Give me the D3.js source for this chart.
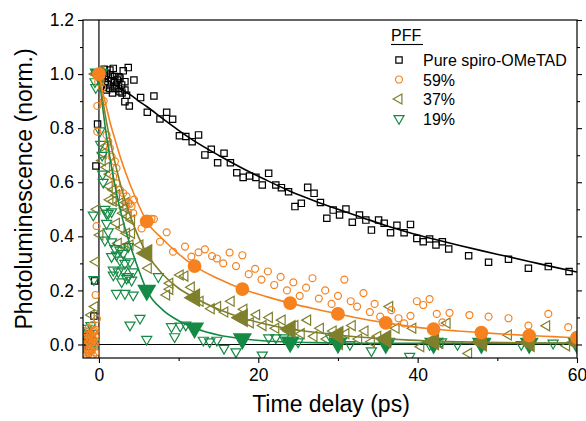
<!DOCTYPE html>
<html><head><meta charset="utf-8">
<script src="https://cdn.jsdelivr.net/npm/d3@7"></script>
<style>body{margin:0;background:#fff}svg{display:block}text{font-family:"Liberation Sans",Arial,sans-serif}</style>
</head><body><svg id="c" width="586" height="421"></svg>
<script>
// ---- data (time delay ps, normalized PL) ----
const seriesNames = ["Pure spiro-OMeTAD", "59%", "37%", "19%"];
const xTicks = [0, 20, 40, 60];
const yTicks = [0.0, 0.2, 0.4, 0.6, 0.8, 1.0, 1.2];

const pureData = [[-1.9,0.01],[-1.6,0.03],[-1.35,0.0],[-1.1,0.04],[-0.9,0.02],[-0.63,0.105],[-0.54,0.235],[-0.38,0.66],[-0.17,0.815],
[0.4,0.99],[0.5,0.95],[0.67,1.018],[0.75,0.972],[0.96,1.003],[0.96,0.941],[1.1,0.96],[1.17,0.985],[1.38,1.015],[1.38,0.947],[1.46,0.997],[1.59,0.975],[1.7,0.93],[1.8,1.021],[1.9,0.97],[2.0,0.991],[2.0,0.947],[2.2,0.96],[2.3,0.978],[2.43,0.947],[2.5,0.99],[2.64,0.985],[2.64,0.935],[2.85,0.96],[2.9,0.93],[3.05,1.012],[3.26,0.972],[3.26,0.941],[3.26,0.898],[3.47,0.922],[3.68,1.024],[3.81,0.882],[4.39,0.978],[5.23,0.913],[6.07,0.859],[6.9,0.919],[7.66,0.834],[8.5,0.859],[9.25,0.833],[10.1,0.772],[10.9,0.769],[11.7,0.75],[12.5,0.775],[13.3,0.701],[14.1,0.722],[14.9,0.672],[15.7,0.707],[16.5,0.672],[17.3,0.635],[18.1,0.618],[18.9,0.623],[19.7,0.618],[20.5,0.59],[21.3,0.633],[22.2,0.59],[22.9,0.58],[23.8,0.565],[24.6,0.51],[25.4,0.522],[26.2,0.581],[27.0,0.559],[27.8,0.525],[28.6,0.467],[29.4,0.497],[30.2,0.479],[31.0,0.501],[31.8,0.452],[32.7,0.479],[33.5,0.46],[34.2,0.423],[35.1,0.46],[35.8,0.448],[36.6,0.413],[37.4,0.441],[38.3,0.413],[39.1,0.444],[39.9,0.392],[40.7,0.38],[41.5,0.39],[42.3,0.368],[43.1,0.38],[43.9,0.353],[46.4,0.328],[48.9,0.304],[51.4,0.315],[53.9,0.282],[56.4,0.288],[59.0,0.27]];

const p59Data = [[-1.95,-0.03],[-1.9,0.02],[-1.85,-0.01],[-1.75,0.05],[-1.7,-0.04],[-1.6,0.0],[-1.55,0.035],[-1.5,-0.02],[-1.45,0.015],[-1.3,0.06],[-1.3,-0.035],[-1.25,0.025],[-1.2,0.01],[-1.15,-0.02],[-1.1,0.04],[-1.05,-0.045],[-1.0,0.0],[-0.95,0.02],[-0.9,0.03],[-0.9,-0.025],[-0.84,0.072],[-0.8,0.01],[-0.75,-0.04],[-0.7,0.02],[-0.65,0.045],[-0.6,0.05],[-0.6,-0.01],[-0.55,0.0],[-0.5,0.03],[-0.45,-0.03],[-0.42,0.054],[-0.42,0.183],[-0.35,0.01],[-0.3,0.438],[-0.25,0.095],[-0.21,0.787],[-0.2,0.882],[-0.1,0.97],
[0.2,0.99],[0.4,0.95],[0.6,0.9],[0.96,0.775],[1.17,0.75],[1.38,0.726],[1.59,0.695],[1.8,0.621],[2.0,0.677],[2.2,0.652],[2.2,0.596],[2.64,0.572],[3.05,0.56],[3.47,0.548],[3.68,0.523],[3.9,0.52],[4.1,0.511],[4.3,0.486],[4.4,0.536],[5.35,0.429],[6.6,0.465],[6.9,0.464],[7.66,0.38],[8.5,0.415],[9.3,0.343],[10.8,0.362],[11.6,0.325],[12.5,0.341],[13.3,0.352],[14.2,0.327],[14.8,0.318],
[15.6,0.30],[16.4,0.34],[17.2,0.29],[18.0,0.33],[18.8,0.26],[19.6,0.28],[20.4,0.24],[21.2,0.27],[22.0,0.22],[22.8,0.25],[23.6,0.2],[24.4,0.23],[25.2,0.18],[26.0,0.21],[26.8,0.245],[27.6,0.17],[28.4,0.2],[29.2,0.15],[30.0,0.18],[30.8,0.24],[31.6,0.16],[32.4,0.14],[33.2,0.19],[34.0,0.12],[34.6,0.15],
[35.3,0.103],[36.7,0.127],[37.6,0.097],[38.3,0.078],[39.1,0.106],[39.9,0.16],[40.7,0.146],[41.5,0.168],[42.4,0.113],[43.1,0.082],[44.0,0.117],[46.5,0.109],[48.9,0.103],[51.4,0.097],[53.9,0.07],[56.4,0.113],[58.9,0.064]];

const p37Data = [[-1.9,0.0],[-1.6,0.02],[-1.3,0.05],[-1.0,0.03],[-0.96,0.109],[-0.5,0.14],[-0.38,0.306],[-0.25,0.5],
[0.13,0.405],[0.42,0.68],[0.54,0.707],[0.88,0.734],[0.96,0.655],[1.3,0.585],[1.38,0.63],[1.38,0.535],[1.8,0.572],[1.8,0.53],[2.2,0.553],[2.2,0.448],[2.43,0.374],[2.64,0.523],[2.8,0.43],[3.05,0.485],[3.26,0.505],[3.26,0.362],[3.4,0.525],[3.47,0.411],[3.68,0.473],[3.9,0.368],[4.1,0.46],[4.1,0.411],[5.15,0.368],[6.2,0.282],[8.5,0.183],[8.9,0.226],[8.9,0.204],[10.2,0.257],[10.8,0.253],[11.6,0.212],[12.7,0.16],[14.1,0.132],[14.9,0.14],
[15.8,0.12],[16.6,0.16],[17.4,0.1],[18.2,0.13],[19.0,0.08],[19.8,0.11],[20.6,0.07],[21.4,0.1],[22.2,0.06],[23.0,0.09],[23.8,0.05],[24.6,0.07],[25.4,0.04],[26.2,0.09],[27.0,0.03],[27.8,0.06],[28.6,0.02],[29.4,0.05],[30.2,0.0],[31.0,0.04],[31.8,0.07],[32.6,0.02],[33.4,0.05],[34.2,0.01],[35.0,0.03],
[36.5,0.14],[37.3,0.06],[39.4,0.06],[40.4,-0.008],[42.8,0.004],[43.7,0.079],[46.4,-0.033],[51.4,0.035],[56.2,0.069],[58.7,-0.005]];

const p19Data = [[-1.8,0.0],[-1.5,0.06],[-1.4,-0.03],[-1.2,0.02],[-1.0,0.07],[-0.95,-0.02],[-0.8,0.04],[-0.6,0.01],[-0.63,0.24],[-0.71,0.479],[-0.5,0.972],[-0.4,0.95],
[0.13,0.79],[0.21,0.74],[0.4,0.7],[0.47,0.63],[0.54,0.6],[0.75,0.5],[0.75,0.386],[0.96,0.485],[0.96,0.448],[1.17,0.485],[1.17,0.417],[1.59,0.491],[1.59,0.38],[1.59,0.325],[1.8,0.275],[1.8,0.257],[2.0,0.355],[2.2,0.331],[2.2,0.189],[2.43,0.269],[2.64,0.349],[2.64,0.312],[2.85,0.232],[3.05,0.337],[3.05,0.275],[3.26,0.3],[3.26,0.189],[3.47,0.245],[3.68,0.362],[3.68,0.251],[3.9,0.306],[3.9,0.072],[4.1,0.238],[4.3,0.269],[4.3,0.183],[5.15,0.097],[6.0,0.019],[7.45,0.251],[9.1,0.066],[9.5,0.029],[10.2,0.068],[10.9,0.072],[13.1,0.016],[13.9,0.01],[14.8,0.016],[15.7,-0.014],[17.2,-0.027],[18.1,0.02],[20.5,-0.039],[21.3,0.025],[22.2,0.025],[23.2,0.025],[25.0,0.01],[29.0,0.03],[31.5,0.0],[34.2,-0.023],[36.5,0.01],[39.0,-0.044],[41.5,0.0],[43.0,0.01],[45.0,0.0],[48.5,0.01],[53.0,0.0],[57.0,0.005]];

// fitted decay curves
const fitT      = [0,0.5,1,1.5,2,2.5,3,4,5,6,8,10,12,15,18,21,24,27,30,33,36,39,42,45,48,51,54,57,60];
const pureFit   = [1.0,0.99,0.98,0.97,0.96,0.95,0.94,0.922,0.90,0.88,0.835,0.792,0.752,0.70,0.652,0.608,0.567,0.532,0.50,0.47,0.44,0.413,0.39,0.368,0.347,0.327,0.307,0.287,0.268];
const p59Fit    = [1.0,0.93,0.87,0.81,0.76,0.71,0.665,0.585,0.515,0.455,0.39,0.335,0.29,0.243,0.205,0.177,0.153,0.132,0.113,0.095,0.08,0.067,0.057,0.05,0.044,0.038,0.033,0.029,0.025];
const p37Fit    = [1.0,0.9,0.815,0.74,0.675,0.615,0.56,0.47,0.395,0.337,0.26,0.208,0.173,0.13,0.098,0.075,0.057,0.045,0.035,0.027,0.021,0.016,0.012,0.01,0.008,0.007,0.006,0.005,0.005];
const p19Fit    = [1.0,0.87,0.76,0.67,0.59,0.52,0.46,0.36,0.275,0.2,0.128,0.088,0.061,0.035,0.021,0.013,0.009,0.007,0.005,0.004,0.004,0.004,0.004,0.004,0.004,0.004,0.004,0.004,0.004];

// ---- layout ----
const W = 586, H = 421;
const m = {left: 83, right: 9, top: 20, bottom: 63};
const svg = d3.select("#c");
const x = d3.scaleLinear().domain([-2, 60]).range([m.left, W - m.right]);
const y = d3.scaleLinear().domain([-0.05, 1.2]).range([H - m.bottom, m.top]);
const FONT = '"Liberation Sans",Arial,sans-serif';

const colors = {pure: "#000000", p59: "#f5821f", p37: "#7f7f2c", p19: "#158a45"};

svg.append("defs").append("clipPath").attr("id", "clip")
  .append("rect").attr("x", m.left).attr("y", m.top)
  .attr("width", W - m.left - m.right).attr("height", H - m.top - m.bottom);

// axes
const gx = svg.append("g").attr("transform", `translate(0,${H - m.bottom})`)
  .call(d3.axisBottom(x).tickValues(xTicks).tickFormat(d3.format("d")).tickSize(5).tickPadding(6));
const gxm = svg.append("g").attr("transform", `translate(0,${H - m.bottom})`)
  .call(d3.axisBottom(x).tickValues([10, 30, 50]).tickFormat("").tickSize(3));
const gy = svg.append("g").attr("transform", `translate(${m.left},0)`)
  .call(d3.axisLeft(y).tickValues(yTicks).tickFormat(d3.format(".1f")).tickSize(5).tickPadding(4));
const gym = svg.append("g").attr("transform", `translate(${m.left},0)`)
  .call(d3.axisLeft(y).tickValues([0.1, 0.3, 0.5, 0.7, 0.9, 1.1]).tickFormat("").tickSize(3));
const gyr = svg.append("g").attr("transform", `translate(${W - m.right},0)`)
  .call(d3.axisRight(y).tickValues(yTicks).tickFormat("").tickSize(5));
const gyrm = svg.append("g").attr("transform", `translate(${W - m.right},0)`)
  .call(d3.axisRight(y).tickValues([0.1, 0.3, 0.5, 0.7, 0.9, 1.1]).tickFormat("").tickSize(3));
[gx, gxm, gy, gym, gyr, gyrm].forEach(g => {
  g.select(".domain").remove();
  g.selectAll("line").attr("stroke", "#000").attr("stroke-width", 1.1);
  g.selectAll("text").attr("font-size", 17.5).attr("fill", "#000").attr("font-family", FONT);
});

// zero lines
svg.append("line").attr("x1", m.left).attr("x2", W - m.right).attr("y1", y(0)).attr("y2", y(0))
  .attr("stroke", "#000").attr("stroke-width", 1.2);
svg.append("line").attr("x1", x(0)).attr("x2", x(0)).attr("y1", m.top).attr("y2", H - m.bottom)
  .attr("stroke", "#000").attr("stroke-width", 1.2);

const plot = svg.append("g").attr("clip-path", "url(#clip)");

const sq = d3.symbol().type(d3.symbolSquare).size(40)();
const circ = d3.symbol().type(d3.symbolCircle).size(38)();
const tri = d3.symbol().type(d3.symbolTriangle).size(44)();
const bigCirc = d3.symbol().type(d3.symbolCircle).size(150)();
const bigTri = d3.symbol().type(d3.symbolTriangle).size(160)();

function scatter(data, path, color, rot) {
  plot.append("g").selectAll("path").data(data).join("path")
    .attr("d", path)
    .attr("transform", d => `translate(${x(d[0])},${y(d[1])}) rotate(${rot})`)
    .attr("fill", "none").attr("stroke", color).attr("stroke-width", 1.2);
}
function fit(vals, color, path, rot) {
  const pts = fitT.map((t, i) => [t, vals[i]]);
  plot.append("path").datum(pts)
    .attr("d", d3.line().x(d => x(d[0])).y(d => y(d[1])).curve(d3.curveMonotoneX))
    .attr("fill", "none").attr("stroke", color).attr("stroke-width", 1.6);
  if (path) {
    plot.append("g").selectAll("path").data(pts.filter(d => d[0] % 6 === 0)).join("path")
      .attr("d", path)
      .attr("transform", d => `translate(${x(d[0])},${y(d[1])}) rotate(${rot})`)
      .attr("fill", color).attr("stroke", "none");
  }
}

scatter(pureData, sq, colors.pure, 0);
scatter(p37Data, tri, colors.p37, -90);
scatter(p19Data, tri, colors.p19, 180);
scatter(p59Data, circ, colors.p59, 0);

fit(pureFit, colors.pure, null, 0);
fit(p19Fit, colors.p19, bigTri, 180);
fit(p37Fit, colors.p37, bigTri, -90);
fit(p59Fit, colors.p59, bigCirc, 0);

// frame
svg.append("rect").attr("x", m.left).attr("y", m.top)
  .attr("width", W - m.left - m.right).attr("height", H - m.top - m.bottom)
  .attr("fill", "none").attr("stroke", "#000").attr("stroke-width", 1.2);

// axis titles
svg.append("text").attr("x", 331).attr("y", 412)
  .attr("text-anchor", "middle").attr("font-size", 23).attr("font-family", FONT)
  .text("Time delay (ps)");
svg.append("text").attr("transform", `translate(32,${(m.top + H - m.bottom) / 2}) rotate(-90)`)
  .attr("text-anchor", "middle").attr("font-size", 23).attr("font-family", FONT)
  .text("Photoluminescence (norm.)");

// legend
const lg = svg.append("g");
lg.append("text").attr("x", 391).attr("y", 41).attr("font-size", 16).attr("font-family", FONT).text("PFF");
lg.append("line").attr("x1", 391).attr("x2", 423).attr("y1", 44.5).attr("y2", 44.5).attr("stroke", "#000").attr("stroke-width", 1.1);
const legItems = [
  {name: seriesNames[0], path: sq, color: colors.pure, rot: 0},
  {name: seriesNames[1], path: circ, color: colors.p59, rot: 0},
  {name: seriesNames[2], path: tri, color: colors.p37, rot: -90},
  {name: seriesNames[3], path: tri, color: colors.p19, rot: 180}
];
legItems.forEach((it, i) => {
  const cy = 60 + i * 19.5;
  lg.append("path").attr("d", it.path).attr("transform", `translate(399,${cy}) rotate(${it.rot})`)
    .attr("fill", "none").attr("stroke", it.color).attr("stroke-width", 1.2);
  lg.append("text").attr("x", 423).attr("y", cy + 6).attr("font-size", 16).attr("font-family", FONT).text(it.name);
});
</script></body></html>
